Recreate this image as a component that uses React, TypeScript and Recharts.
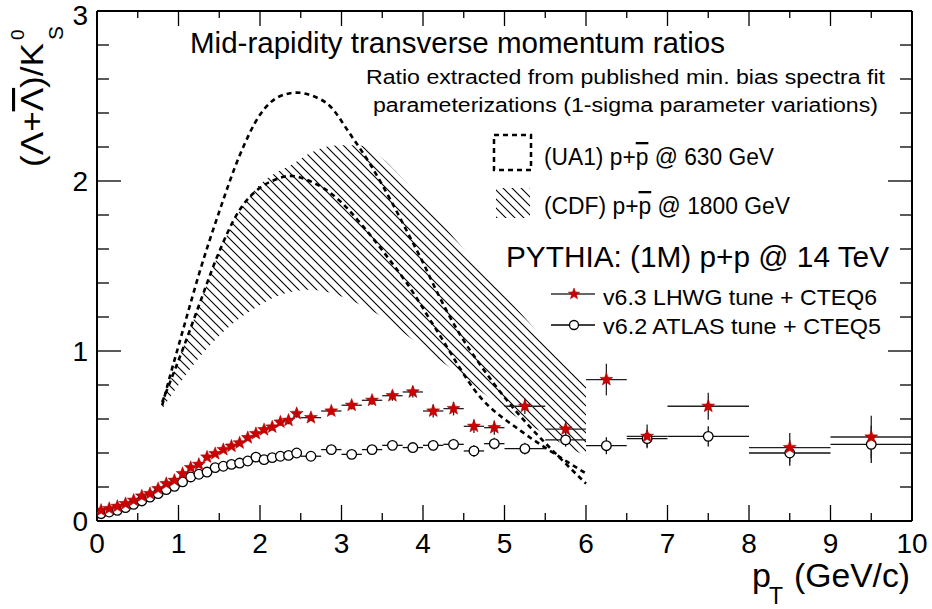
import React from 'react';
import { ComposedChart, XAxis, YAxis, Line, Area, Scatter, ErrorBar } from 'recharts';

const FONT = '"Liberation Sans", Arial, Helvetica, sans-serif';

// PYTHIA bin centres (GeV/c) and bin half widths, shared by both tunes
const ptBins = [
  0.05, 0.15, 0.25, 0.35, 0.45, 0.55, 0.65, 0.75, 0.85, 0.95,
  1.05, 1.15, 1.25, 1.35, 1.45, 1.55, 1.65, 1.75, 1.85, 1.95,
  2.05, 2.15, 2.25, 2.35, 2.45,
  2.625, 2.875, 3.125, 3.375, 3.625, 3.875, 4.125, 4.375, 4.625, 4.875,
  5.25, 5.75, 6.25, 6.75, 7.5, 8.5, 9.5,
];
const binHalfWidth = [
  0.05, 0.05, 0.05, 0.05, 0.05, 0.05, 0.05, 0.05, 0.05, 0.05,
  0.05, 0.05, 0.05, 0.05, 0.05, 0.05, 0.05, 0.05, 0.05, 0.05,
  0.05, 0.05, 0.05, 0.05, 0.05,
  0.125, 0.125, 0.125, 0.125, 0.125, 0.125, 0.125, 0.125, 0.125, 0.125,
  0.25, 0.25, 0.25, 0.25, 0.5, 0.5, 0.5,
];

// v6.3 LHWG tune + CTEQ6
const lhwgRatio = [
  0.063, 0.073, 0.086, 0.102, 0.122, 0.147, 0.161, 0.19, 0.22, 0.239,
  0.279, 0.314, 0.333, 0.376, 0.396, 0.42, 0.44, 0.459, 0.49, 0.514,
  0.537, 0.553, 0.582, 0.592, 0.632,
  0.608, 0.647, 0.681, 0.71, 0.737, 0.759, 0.647, 0.661, 0.557, 0.549,
  0.675, 0.541, 0.832, 0.498, 0.675, 0.432, 0.494,
];
const lhwgErr = [
  0.005, 0.005, 0.006, 0.006, 0.007, 0.008, 0.008, 0.009, 0.01, 0.01,
  0.011, 0.012, 0.012, 0.013, 0.014, 0.015, 0.016, 0.017, 0.018, 0.019,
  0.02, 0.021, 0.022, 0.023, 0.024,
  0.02, 0.022, 0.025, 0.028, 0.03, 0.033, 0.038, 0.04, 0.04, 0.042,
  0.045, 0.05, 0.093, 0.07, 0.08, 0.085, 0.125,
];

// v6.2 ATLAS tune + CTEQ5
const atlasRatio = [
  0.043, 0.053, 0.063, 0.079, 0.098, 0.118, 0.141, 0.161, 0.185, 0.204,
  0.23, 0.259, 0.275, 0.288, 0.314, 0.322, 0.333, 0.341, 0.353, 0.376,
  0.361, 0.373, 0.381, 0.386, 0.4,
  0.381, 0.42, 0.392, 0.42, 0.445, 0.432, 0.445, 0.451, 0.412, 0.455,
  0.426, 0.477, 0.443, 0.485, 0.498, 0.4, 0.451,
];
const atlasErr = [
  0.004, 0.004, 0.005, 0.005, 0.006, 0.006, 0.007, 0.007, 0.008, 0.008,
  0.009, 0.009, 0.01, 0.01, 0.011, 0.011, 0.012, 0.012, 0.013, 0.013,
  0.014, 0.014, 0.015, 0.015, 0.016,
  0.018, 0.02, 0.022, 0.024, 0.026, 0.028, 0.03, 0.032, 0.034, 0.035,
  0.035, 0.04, 0.05, 0.05, 0.06, 0.075, 0.11,
];

// UA1 p+pbar @ 630 GeV, 1-sigma curves
const ua1HighPt = [0.8, 0.9, 1.0, 1.1, 1.25, 1.5, 1.75, 2.0, 2.25, 2.45, 2.65, 2.86, 3.1, 3.35, 3.6, 3.84, 4.0, 4.2, 4.45, 4.7, 5.03, 5.3, 5.6, 6.0];
const ua1HighRatio = [0.68, 0.86, 1.03, 1.2, 1.45, 1.82, 2.15, 2.39, 2.5, 2.52, 2.5, 2.44, 2.28, 2.1, 1.89, 1.67, 1.52, 1.32, 1.1, 0.92, 0.71, 0.56, 0.41, 0.22];
const ua1LowPt = [0.8, 1.06, 1.26, 1.47, 1.75, 2.0, 2.2, 2.37, 2.61, 2.94, 3.27, 3.6, 3.8, 4.17, 4.7, 5.2, 5.6, 6.0];
const ua1LowRatio = [0.7, 1.02, 1.28, 1.55, 1.83, 1.96, 2.01, 2.03, 2.0, 1.9, 1.73, 1.53, 1.4, 1.12, 0.73, 0.53, 0.4, 0.28];

// CDF p+pbar @ 1800 GeV, band between the 1-sigma variations
const cdfPt = [0.8, 1.0, 1.2, 1.5, 1.8, 2.0, 2.2, 2.4, 2.6, 2.8, 3.0, 3.2, 3.4, 3.7, 4.0, 4.5, 5.0, 5.5, 6.0];
const cdfLow = [0.66, 0.8, 0.93, 1.09, 1.21, 1.27, 1.32, 1.35, 1.36, 1.35, 1.32, 1.28, 1.23, 1.13, 1.02, 0.84, 0.66, 0.51, 0.38];
const cdfHigh = [0.7, 0.95, 1.2, 1.58, 1.86, 1.98, 2.05, 2.1, 2.16, 2.2, 2.21, 2.21, 2.17, 2.04, 1.88, 1.6, 1.33, 1.06, 0.8];

const xTicks = [0, 0.5, 1, 1.5, 2, 2.5, 3, 3.5, 4, 4.5, 5, 5.5, 6, 6.5, 7, 7.5, 8, 8.5, 9, 9.5, 10];
const yTicks = [0, 0.2, 0.4, 0.6, 0.8, 1, 1.2, 1.4, 1.6, 1.8, 2, 2.2, 2.4, 2.6, 2.8, 3];

const lhwgRows = ptBins.map((x, i) => ({ x, y: lhwgRatio[i], ex: binHalfWidth[i], ey: lhwgErr[i] }));
const atlasRows = ptBins.map((x, i) => ({ x, y: atlasRatio[i], ex: binHalfWidth[i], ey: atlasErr[i] }));
const ua1HighRows = ua1HighPt.map((x, i) => ({ x, y: ua1HighRatio[i] }));
const ua1LowRows = ua1LowPt.map((x, i) => ({ x, y: ua1LowRatio[i] }));
const cdfRows = cdfPt.map((x, i) => ({ x, band: [cdfLow[i], cdfHigh[i]] }));

const isMajor = (v: number) => Math.abs(v - Math.round(v)) < 1e-6;

const starPath = (cx: number, cy: number, ro: number, ri: number) => {
  let d = '';
  for (let k = 0; k < 10; k++) {
    const r = k % 2 ? ri : ro;
    const a = -Math.PI / 2 + (k * Math.PI) / 5;
    d += (k ? 'L' : 'M') + (cx + r * Math.cos(a)).toFixed(2) + ',' + (cy + r * Math.sin(a)).toFixed(2);
  }
  return d + 'Z';
};

const Star = (p: any) => <path d={starPath(p.cx, p.cy, 6.8, 2.9)} fill="#cc0000" stroke="#a00000" strokeWidth={0.5} />;
const OpenCircle = (p: any) => <circle cx={p.cx} cy={p.cy} r={4.8} fill="#fff" stroke="#000" strokeWidth={1.3} />;

const BottomTick = (p: any) => {
  const v = p.payload.value;
  const major = isMajor(v);
  return (
    <g>
      <line x1={p.x} x2={p.x} y1={p.y} y2={p.y - (major ? 16 : 8)} stroke="#000" strokeWidth={1.3} />
      {major && (
        <text x={p.x} y={p.y + 32} textAnchor="middle" fontSize={28} fontFamily={FONT} fill="#000">
          {Math.round(v)}
        </text>
      )}
    </g>
  );
};

const TopTick = (p: any) => {
  const major = isMajor(p.payload.value);
  return <line x1={p.x} x2={p.x} y1={p.y} y2={p.y + (major ? 15 : 7)} stroke="#000" strokeWidth={1.3} />;
};

const LeftTick = (p: any) => {
  const v = p.payload.value;
  const major = isMajor(v);
  // the top label would otherwise poke out of the page
  const dy = v === 3 ? 14 : 10;
  return (
    <g>
      <line x1={p.x} x2={p.x + (major ? 24 : 12)} y1={p.y} y2={p.y} stroke="#000" strokeWidth={1.3} />
      {major && (
        <text x={p.x - 9} y={p.y + dy} textAnchor="end" fontSize={28} fontFamily={FONT} fill="#000">
          {Math.round(v)}
        </text>
      )}
    </g>
  );
};

const RightTick = (p: any) => {
  const major = isMajor(p.payload.value);
  return <line x1={p.x} x2={p.x - (major ? 24 : 12)} y1={p.y} y2={p.y} stroke="#000" strokeWidth={1.3} />;
};

const axisLine = { stroke: '#000', strokeWidth: 2 };

export default function App() {
  return (
    <div style={{ position: 'absolute', left: 0, top: 0, width: 932, height: 609, background: '#fff', fontFamily: FONT }}>
      <svg width={0} height={0} style={{ position: 'absolute' }}>
        <defs>
          <pattern id="cdfHatch" patternUnits="userSpaceOnUse" width={9} height={9}>
            <path d="M0,0 L9,9 M-1,8 L1,10 M8,-1 L10,1" stroke="#000" strokeWidth={1.1} />
          </pattern>
        </defs>
      </svg>

      <ComposedChart width={932} height={609} margin={{ top: 10, right: 0, bottom: 0, left: 0 }}>
        <XAxis
          xAxisId={0}
          dataKey="x"
          type="number"
          domain={[0, 10]}
          allowDataOverflow
          ticks={xTicks}
          interval={0}
          height={88}
          tickSize={0}
          tickMargin={0}
          tickLine={false}
          axisLine={axisLine}
          tick={BottomTick}
        />
        <XAxis
          xAxisId="top"
          orientation="top"
          dataKey="x"
          type="number"
          domain={[0, 10]}
          allowDataOverflow
          ticks={xTicks}
          interval={0}
          height={1}
          tickSize={0}
          tickMargin={0}
          tickLine={false}
          axisLine={axisLine}
          tick={TopTick}
        />
        <YAxis
          yAxisId={0}
          type="number"
          domain={[0, 3]}
          allowDataOverflow
          ticks={yTicks}
          interval={0}
          width={97}
          tickSize={0}
          tickMargin={0}
          tickLine={false}
          axisLine={axisLine}
          tick={LeftTick}
        />
        <YAxis
          yAxisId="right"
          orientation="right"
          type="number"
          domain={[0, 3]}
          allowDataOverflow
          ticks={yTicks}
          interval={0}
          width={20}
          tickSize={0}
          tickMargin={0}
          tickLine={false}
          axisLine={axisLine}
          tick={RightTick}
        />

        <Area
          data={cdfRows}
          dataKey="band"
          type="monotone"
          stroke="none"
          fill="url(#cdfHatch)"
          fillOpacity={1}
          isAnimationActive={false}
          activeDot={false}
        />
        <Line
          data={ua1HighRows}
          dataKey="y"
          type="monotone"
          stroke="#000"
          strokeWidth={2.6}
          strokeDasharray="5 4"
          dot={false}
          activeDot={false}
          isAnimationActive={false}
        />
        <Line
          data={ua1LowRows}
          dataKey="y"
          type="monotone"
          stroke="#000"
          strokeWidth={2.6}
          strokeDasharray="5 4"
          dot={false}
          activeDot={false}
          isAnimationActive={false}
        />
        <Scatter data={atlasRows} dataKey="y" shape={OpenCircle} isAnimationActive={false}>
          <ErrorBar dataKey="ex" direction="x" width={0} stroke="#111" strokeWidth={1.3} isAnimationActive={false} />
          <ErrorBar dataKey="ey" direction="y" width={0} stroke="#111" strokeWidth={1.3} isAnimationActive={false} />
        </Scatter>
        <Scatter data={lhwgRows} dataKey="y" shape={Star} isAnimationActive={false}>
          <ErrorBar dataKey="ex" direction="x" width={0} stroke="#222" strokeWidth={1.3} isAnimationActive={false} />
          <ErrorBar dataKey="ey" direction="y" width={0} stroke="#222" strokeWidth={1.3} isAnimationActive={false} />
        </Scatter>
      </ComposedChart>

      <svg
        width={932}
        height={609}
        style={{ position: 'absolute', left: 0, top: 0, pointerEvents: 'none' }}
        fontFamily={FONT}
        fill="#000"
      >
        {/* y axis title */}
        <g transform="translate(43,167) rotate(-90)">
          <text x={0} y={0} fontSize={31} textLength={124} lengthAdjust="spacingAndGlyphs">
            (Λ+<tspan style={{ textDecoration: 'overline' }}>Λ</tspan>)/K
          </text>
          <text x={127} y={-19} fontSize={19}>0</text>
          <text x={127} y={20} fontSize={21}>S</text>
        </g>

        {/* x axis title */}
        <text x={752} y={587} fontSize={34}>p</text>
        <text x={769} y={604} fontSize={23}>T</text>
        <text x={794} y={587} fontSize={34} textLength={116} lengthAdjust="spacingAndGlyphs">(GeV/c)</text>

        {/* headers */}
        <text x={190} y={53} fontSize={29.5} textLength={535} lengthAdjust="spacingAndGlyphs">
          Mid-rapidity transverse momentum ratios
        </text>
        <text x={366} y={84} fontSize={20} textLength={519} lengthAdjust="spacingAndGlyphs">
          Ratio extracted from published min. bias spectra fit
        </text>
        <text x={373} y={112} fontSize={20} textLength={505} lengthAdjust="spacingAndGlyphs">
          parameterizations (1-sigma parameter variations)
        </text>

        {/* legend */}
        <rect x={494} y={135} width={37} height={35} fill="none" stroke="#000" strokeWidth={2.5} strokeDasharray="5 4" />
        <text x={544} y={165} fontSize={23} textLength={230} lengthAdjust="spacingAndGlyphs">
          (UA1) p+<tspan style={{ textDecoration: 'overline' }}>p</tspan> @ 630 GeV
        </text>
        <rect x={496} y={188} width={34} height={30} fill="url(#cdfHatch)" />
        <text x={544} y={214} fontSize={23} textLength={246} lengthAdjust="spacingAndGlyphs">
          (CDF) p+<tspan style={{ textDecoration: 'overline' }}>p</tspan> @ 1800 GeV
        </text>
        <text x={506} y={267} fontSize={30} textLength={383} lengthAdjust="spacingAndGlyphs">
          PYTHIA: (1M) p+p @ 14 TeV
        </text>
        <line x1={551} x2={595} y1={294} y2={294} stroke="#333" strokeWidth={1.5} />
        <path d={starPath(574, 294, 6, 2.6)} fill="#cc0000" stroke="#a00000" strokeWidth={0.5} />
        <text x={603} y={305} fontSize={22} textLength={274} lengthAdjust="spacingAndGlyphs">
          v6.3 LHWG tune + CTEQ6
        </text>
        <line x1={551} x2={595} y1={325} y2={325} stroke="#000" strokeWidth={1.5} />
        <circle cx={574} cy={325} r={4.5} fill="#fff" stroke="#000" strokeWidth={1.3} />
        <text x={603} y={334} fontSize={22} textLength={278} lengthAdjust="spacingAndGlyphs">
          v6.2 ATLAS tune + CTEQ5
        </text>
      </svg>
    </div>
  );
}
